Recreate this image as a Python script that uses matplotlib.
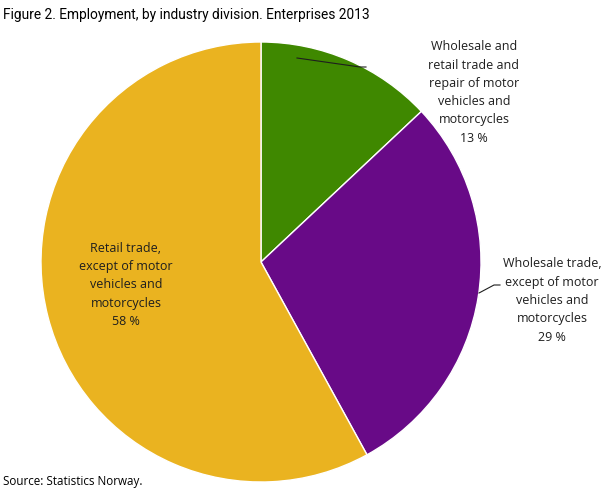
import matplotlib
matplotlib.use("Agg")
import matplotlib.pyplot as plt

# Data
categories = [
    "Wholesale and\nretail trade and\nrepair of motor\nvehicles and\nmotorcycles",
    "Wholesale trade,\nexcept of motor\nvehicles and\nmotorcycles",
    "Retail trade,\nexcept of motor\nvehicles and\nmotorcycles",
]
values = [13, 29, 58]
colors = ["#3f8800", "#680a87", "#eab320"]

title = "Figure 2. Employment, by industry division. Enterprises 2013"
source = "Source: Statistics Norway."

plt.rcParams['font.family'] = ['Open Sans', 'DejaVu Sans']

W, H = 608, 489
fig = plt.figure(figsize=(W / 100, H / 100), dpi=100)
ax = fig.add_axes([0, 0, 1, 1])

cx, cy, r = 261, 263, 220
ax.pie(values, colors=colors, startangle=-90, counterclock=True,
       center=(cx, cy), radius=r, frame=True,
       wedgeprops=dict(edgecolor='white', linewidth=1))
ax.set_xlim(0, W)
ax.set_ylim(H, 0)
ax.set_aspect('auto')
ax.axis('off')

fs = 9
tc = '#1e1e1e'
ls = 1.53
labels = [f"{c}\n{v} %" for c, v in zip(categories, values)]
ax.text(474, 92.5, labels[0], ha='center', va='center', fontsize=fs,
        color=tc, linespacing=ls)
ax.text(552, 300.5, labels[1], ha='center', va='center', fontsize=fs,
        color=tc, linespacing=ls)
ax.text(126, 285, labels[2], ha='center', va='center', fontsize=fs,
        color=tc, linespacing=ls)

# leader lines
ax.plot([297, 360, 366], [59, 68, 68], color=tc, lw=0.8)
ax.plot([479, 494, 500], [294, 286, 286], color=tc, lw=0.8)

ax.text(3, 15, title, ha='left', va='center', fontsize=9.9, color='#000000',
        family=['Roboto', 'DejaVu Sans'])
ax.text(3, 481, source, ha='left', va='center', fontsize=8.4, color='#000000')

fig.savefig("out.png", dpi=100)
